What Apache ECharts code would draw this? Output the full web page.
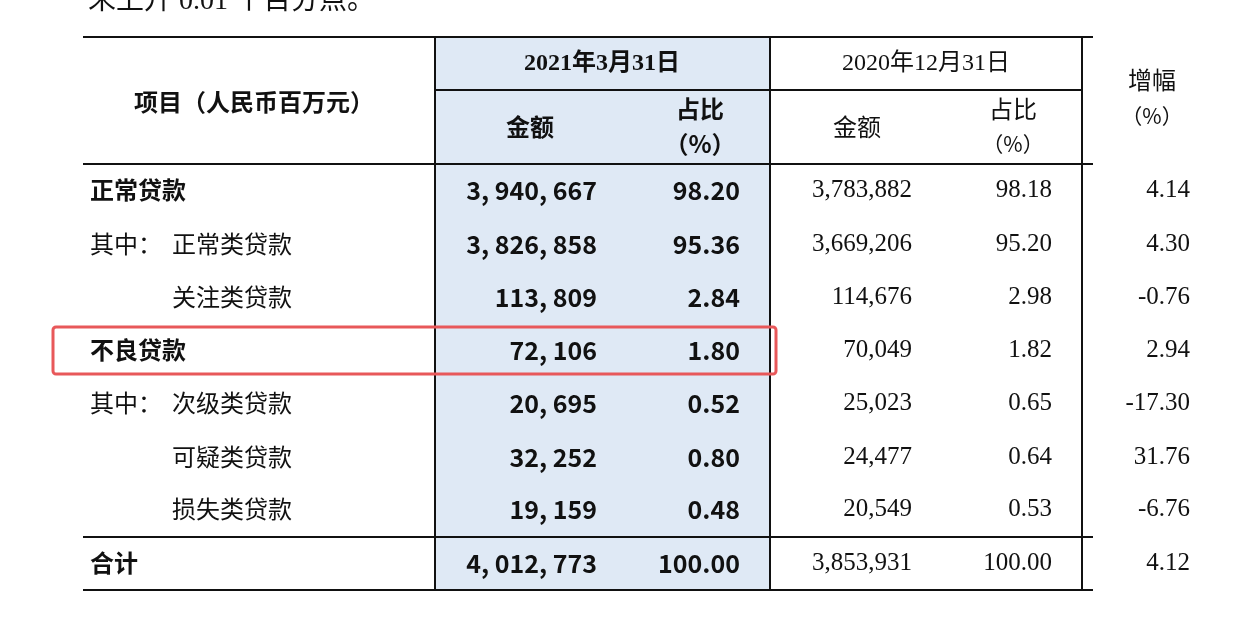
<!DOCTYPE html>
<html><head><meta charset="utf-8">
<script src="https://cdn.jsdelivr.net/npm/echarts@6/dist/echarts.min.js"></script>
<style>html,body{margin:0;background:#fff}#c{width:1258px;height:636px}</style>
</head><body><div id="c"></div>
<script>
const items = ['正常贷款', '其中：正常类贷款', '关注类贷款', '不良贷款', '其中：次级类贷款', '可疑类贷款', '损失类贷款', '合计']
const boldRow = [true, false, false, true, false, false, false, true]
const amt2021 = ['3,940,667', '3,826,858', '113,809', '72,106', '20,695', '32,252', '19,159', '4,012,773']
const pct2021 = ['98.20', '95.36', '2.84', '1.80', '0.52', '0.80', '0.48', '100.00']
const amt2020 = ['3,783,882', '3,669,206', '114,676', '70,049', '25,023', '24,477', '20,549', '3,853,931']
const pct2020 = ['98.18', '95.20', '2.98', '1.82', '0.65', '0.64', '0.53', '100.00']
const growth = ['4.14', '4.30', '-0.76', '2.94', '-17.30', '31.76', '-6.76', '4.12']

const chart = echarts.init(document.getElementById('c'))
const CJK = '"Noto Sans CJK SC", sans-serif'
const SERIF = '"Liberation Serif", "Noto Sans CJK SC", serif'
const g = []
const txt = (x, y, s, o = {}) => g.push({
  type: 'text', x, y,
  style: { text: s, fill: '#111', font: (o.bold ? 'bold ' : '') + (o.size || 24) + 'px ' + (o.font || CJK),
    align: o.align || 'left', verticalAlign: 'middle' }
})
const line = (x1, y1, x2, y2, w = 2) => g.push({ type: 'line', shape: { x1, y1, x2, y2 }, style: { stroke: '#111', lineWidth: w } })

g.push({ type: 'rect', shape: { x: 435, y: 38, width: 335, height: 552 }, style: { fill: '#dfe9f5' } })
txt(88, 2, '末上升 0.01 个百分点。', { font: SERIF, size: 28 })

// header
txt(254, 102, '项目（人民币百万元）', { bold: true, align: 'center' })
txt(602, 64, '2021年3月31日', { bold: true, font: SERIF, align: 'center' })
txt(530, 127, '金额', { bold: true, align: 'center' })
txt(700, 109, '占比', { bold: true, align: 'center' })
txt(700, 144, '（%）', { bold: true, align: 'center' })
txt(926, 64, '2020年12月31日', { font: SERIF, align: 'center' })
txt(857, 127, '金额', { align: 'center' })
txt(1013, 109, '占比', { align: 'center' })
txt(1013, 144, '（%）', { align: 'center', size: 21 })
txt(1152, 80, '增幅', { align: 'center' })
txt(1152, 116, '（%）', { align: 'center', size: 21 })

const rowY = [190, 244, 297, 350, 403, 457, 509, 563]
items.forEach((name, i) => {
  const y = rowY[i]
  if (name.startsWith('其中：')) {
    txt(90, y, '其中：')
    txt(172, y, name.slice(3))
  } else if (boldRow[i]) {
    txt(90, y, name, { bold: true })
  } else {
    txt(172, y, name)
  }
  txt(597, y, amt2021[i].replace(/,/g, ', '), { bold: true, align: 'right', size: 25 })
  txt(740, y, pct2021[i], { bold: true, align: 'right', size: 25 })
  txt(912, y, amt2020[i], { font: SERIF, align: 'right', size: 25 })
  txt(1052, y, pct2020[i], { font: SERIF, align: 'right', size: 25 })
  txt(1190, y, growth[i], { font: SERIF, align: 'right', size: 25 })
})

// grid lines
line(83, 37, 1093, 37)
line(435, 90, 1082, 90)
line(83, 164, 1093, 164)
line(83, 537, 1093, 537)
line(83, 590, 1093, 590)
;[435, 770, 1082].forEach(x => line(x, 37, x, 590))

g.push({ type: 'rect', shape: { x: 53, y: 327, width: 723, height: 47, r: 3 }, style: { fill: 'none', stroke: '#e8585a', lineWidth: 3 } })

chart.setOption({ animation: false, graphic: g })
</script></body></html>
